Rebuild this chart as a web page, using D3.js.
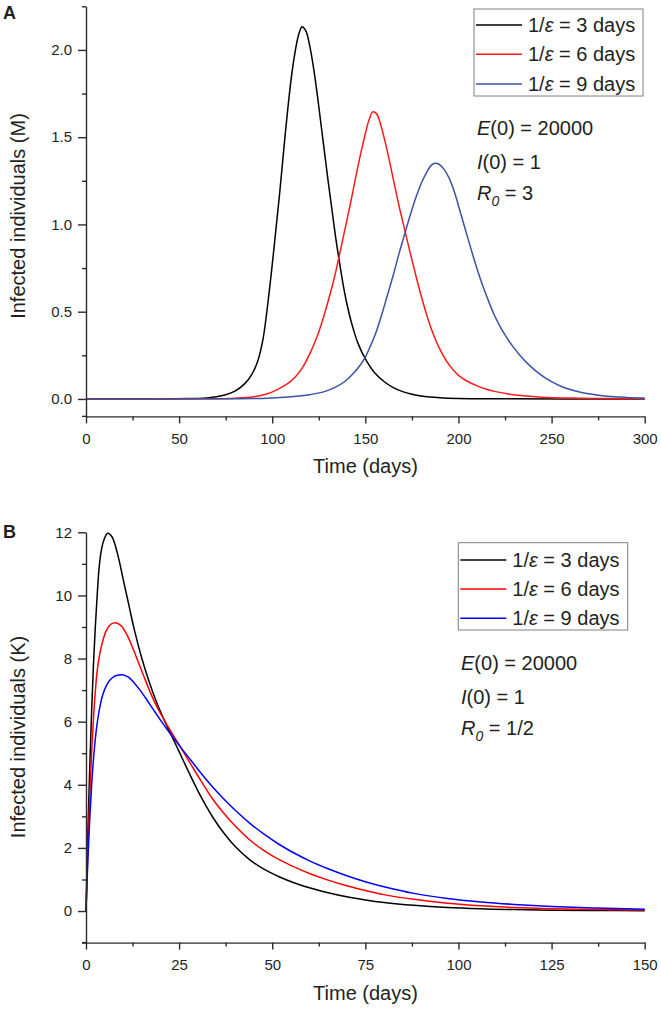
<!DOCTYPE html>
<html><head><meta charset="utf-8">
<script src="https://cdn.jsdelivr.net/npm/d3@7"></script>
<style>
body{margin:0;background:#fff;}
svg text{font-family:Arial,"Liberation Sans",sans-serif;fill:#231f20;}
</style></head><body>
<svg id="c" width="661" height="1009"></svg>
<script>
// ---------- Panel A data (t in days, infected in millions) ----------
const aBlack = [[0,0],[40,0],[55,0.002],[60,0.003],[65,0.006],[70,0.012],[75,0.024],[80,0.045],[85,0.085],[89,0.14],[92,0.21],[95,0.34],[98,0.58],[101,0.87],[104,1.18],[107,1.52],[110,1.82],[112,1.97],[114,2.08],[116,2.133],[118,2.11],[120,2.03],[122,1.91],[124,1.76],[126,1.59],[128,1.42],[130,1.25],[132,1.09],[134,0.93],[136,0.79],[138,0.66],[140,0.55],[143,0.42],[146,0.32],[150,0.23],[155,0.15],[160,0.1],[165,0.065],[170,0.042],[175,0.027],[180,0.017],[190,0.007],[200,0.003],[220,0.001],[300,0]];
const aRed = [[0,0],[60,0.001],[80,0.004],[90,0.012],[97,0.028],[103,0.055],[108,0.086],[112,0.122],[116,0.175],[120,0.255],[124,0.355],[127,0.45],[130,0.56],[133,0.68],[136,0.82],[139,0.97],[142,1.12],[145,1.28],[148,1.43],[150,1.52],[152,1.6],[154,1.645],[156,1.635],[158,1.58],[160,1.5],[162,1.41],[164,1.31],[166,1.21],[168,1.11],[170,1.02],[172,0.93],[174,0.84],[176,0.755],[178,0.67],[180,0.59],[183,0.48],[186,0.385],[190,0.285],[195,0.195],[200,0.135],[205,0.1],[210,0.075],[215,0.056],[220,0.042],[226,0.03],[235,0.018],[245,0.01],[260,0.005],[280,0.002],[300,0.001]];
const aBlue = [[0,0],[80,0.001],[90,0.002],[100,0.006],[110,0.012],[120,0.024],[128,0.042],[134,0.068],[139,0.1],[143,0.14],[147,0.19],[150,0.24],[153,0.31],[156,0.39],[159,0.49],[162,0.6],[165,0.71],[168,0.83],[171,0.94],[174,1.05],[177,1.15],[180,1.235],[183,1.3],[185.5,1.34],[187.5,1.35],[189.5,1.345],[192,1.32],[195,1.265],[198,1.18],[201,1.07],[204,0.96],[207,0.85],[210,0.745],[213,0.65],[216,0.565],[219,0.487],[222,0.422],[226,0.35],[230,0.29],[234,0.238],[238,0.194],[242,0.157],[246,0.125],[250,0.099],[255,0.073],[260,0.054],[265,0.04],[270,0.03],[280,0.016],[290,0.009],[300,0.005]];

// ---------- Panel B data (t in days, infected in thousands) ----------
const bBlack = [[0,0],[0.3,1.5],[0.6,2.9],[1.0,4.5],[1.5,6.3],[2.0,7.8],[2.5,9.0],[3.0,10.0],[3.5,10.85],[4.0,11.35],[4.7,11.72],[5.8,11.97],[7,11.85],[8.5,11.3],[10,10.5],[11.5,9.7],[13,8.9],[15,8.0],[17,7.25],[19,6.6],[21,6.05],[23,5.55],[25,5.05],[28,4.3],[30.6,3.68],[34,2.98],[37,2.47],[40,2.05],[44,1.62],[48,1.31],[52,1.08],[56,0.89],[60,0.74],[65,0.58],[70,0.45],[75,0.35],[80,0.27],[88,0.18],[97,0.11],[106,0.07],[115,0.045],[125,0.028],[137,0.017],[150,0.01]];
const bRed = [[0,0],[0.5,1.9],[1.0,3.6],[1.5,5.0],[2.0,6.1],[2.5,6.95],[3.0,7.6],[3.7,8.15],[4.6,8.6],[5.5,8.9],[6.5,9.07],[7.5,9.13],[8.4,9.12],[9.5,9.03],[11,8.75],[12.5,8.35],[14,7.9],[15.5,7.45],[17,7.0],[19,6.48],[21,6.05],[23,5.65],[25,5.27],[28,4.68],[31,4.1],[34,3.55],[37,3.1],[40,2.7],[44,2.25],[48,1.9],[52,1.62],[56,1.39],[60,1.19],[65,0.98],[70,0.8],[75,0.65],[80,0.52],[88,0.37],[97,0.25],[106,0.17],[115,0.115],[125,0.075],[137,0.045],[150,0.03]];
const bBlue = [[0,0],[0.5,1.6],[1.0,2.9],[1.5,3.95],[2.0,4.8],[2.5,5.45],[3.0,5.95],[3.7,6.45],[4.5,6.85],[5.5,7.15],[6.5,7.33],[7.5,7.43],[8.5,7.47],[10,7.48],[11.5,7.4],[13,7.22],[14.5,7.0],[16,6.75],[18,6.4],[20,6.05],[22,5.72],[25,5.25],[28,4.8],[31,4.35],[34,3.93],[37,3.55],[40,3.2],[44,2.78],[48,2.42],[52,2.1],[56,1.83],[60,1.59],[65,1.34],[70,1.12],[75,0.93],[80,0.77],[88,0.56],[97,0.4],[106,0.29],[115,0.21],[125,0.145],[137,0.095],[150,0.06]];

// ---------- ticks & labels ----------
const aXMajor = [0,50,100,150,200,250,300];
const aXMinor = [25,75,125,175,225,275];
const aYMajor = [0,0.5,1.0,1.5,2.0];
const aYMinor = [0.25,0.75,1.25,1.75,2.25];
const bXMajor = [0,25,50,75,100,125,150];
const bXMinor = [12.5,37.5,62.5,87.5,112.5,137.5];
const bYMajor = [0,2,4,6,8,10,12];
const bYMinor = [-1,1,3,5,7,9,11];
const latentDays = ["3","6","9"];
const annotA = ["20000","1","3"];
const annotB = ["20000","1","1/2"];

const svg = d3.select("#c");
const AX = "#2b2b2b";

function panel(o){
  const g = svg.append("g");
  const x = d3.scaleLinear().domain(o.xDom).range([86,644.7]);
  const y = d3.scaleLinear().domain(o.yDom).range(o.yRange);
  const y0 = o.yRange[0];

  // curves
  const line = d3.line().x(d=>x(d[0])).y(d=>y(d[1])).curve(d3.curveCatmullRom.alpha(0.5));
  o.series.forEach(s=>{
    g.append("path").attr("d",line(s.data)).attr("fill","none")
     .attr("stroke",s.color).attr("stroke-width",1.5).attr("stroke-linejoin","round");
  });

  // x axis
  g.append("g").attr("transform",`translate(0,${y0})`)
    .call(d3.axisBottom(x).tickValues(o.xMajor).tickSize(7).tickSizeOuter(0).tickPadding(9.5).tickFormat(d3.format("d")));
  g.append("g").attr("transform",`translate(0,${y0})`)
    .call(d3.axisBottom(x).tickValues(o.xMinor).tickSize(4).tickSizeOuter(0).tickFormat(""))
    .select(".domain").remove();
  // y axis
  g.append("g").attr("transform","translate(86,0)")
    .call(d3.axisLeft(y).tickValues(o.yMajor).tickSize(8).tickSizeOuter(0).tickPadding(6).tickFormat(o.yFmt));
  g.append("g").attr("transform","translate(86,0)")
    .call(d3.axisLeft(y).tickValues(o.yMinor).tickSize(4).tickSizeOuter(0).tickFormat(""))
    .select(".domain").remove();
  g.append("line").attr("x1",82).attr("x2",86).attr("y1",y0).attr("y2",y0).attr("stroke",AX).attr("stroke-width",1.4);

  g.selectAll(".domain, .tick line").attr("stroke",AX).attr("stroke-width",1.4);
  g.selectAll(".tick text").attr("font-size",15).attr("font-family",'Arial,"Liberation Sans",sans-serif').attr("fill","#231f20");

  // axis titles
  g.append("text").attr("x",365.5).attr("y",o.xTitleY).attr("text-anchor","middle")
    .attr("font-size",20).text("Time (days)");
  g.append("text").attr("transform",`translate(25,${o.yTitleC}) rotate(-90)`).attr("text-anchor","middle")
    .attr("font-size",20).text(o.yTitle);

  // panel letter
  g.append("text").attr("x",3).attr("y",o.letterY).attr("font-size",18).attr("font-weight","bold").text(o.letter);

  // legend
  const L = o.legend;
  g.append("rect").attr("x",L.x).attr("y",L.y).attr("width",L.w).attr("height",L.h)
    .attr("fill","none").attr("stroke","#808080").attr("stroke-width",1);
  o.series.forEach((s,i)=>{
    const yy = L.rows[i];
    g.append("line").attr("x1",L.x+2).attr("x2",L.x+48).attr("y1",yy).attr("y2",yy)
      .attr("stroke",s.color).attr("stroke-width",1.5);
    const t = g.append("text").attr("x",L.x+54).attr("y",yy+7).attr("font-size",20);
    t.append("tspan").text("1/");
    t.append("tspan").attr("font-style","italic").text("ε");
    t.append("tspan").text(" = " + latentDays[i] + " days");
  });

  // annotations
  const A = o.annot;
  const t1 = g.append("text").attr("x",A.x).attr("y",A.ys[0]).attr("font-size",20);
  t1.append("tspan").attr("font-style","italic").text("E");
  t1.append("tspan").text("(0) = " + A.vals[0]);
  const t2 = g.append("text").attr("x",A.x).attr("y",A.ys[1]).attr("font-size",20);
  t2.append("tspan").attr("font-style","italic").text("I");
  t2.append("tspan").text("(0) = " + A.vals[1]);
  const t3 = g.append("text").attr("x",A.x).attr("y",A.ys[2]).attr("font-size",20);
  t3.append("tspan").attr("font-style","italic").text("R");
  t3.append("tspan").attr("font-style","italic").attr("font-size",14).attr("dy",6).text("0");
  t3.append("tspan").attr("dy",-6).text(" = " + A.vals[2]);
}

panel({
  xDom:[0,300], yDom:[-0.1,2.25], yRange:[416.4,6.3],
  xMajor:aXMajor, xMinor:aXMinor, yMajor:aYMajor, yMinor:aYMinor, yFmt:d3.format(".1f"),
  series:[{data:aBlack,color:"#000000"},{data:aRed,color:"#ff1a1a"},{data:aBlue,color:"#3a53a4"}],
  xTitleY:473, yTitle:"Infected individuals (M)", yTitleC:216, letter:"A", letterY:19,
  legend:{x:474,y:9,w:169,h:87,rows:[25,54.3,84]},
  annot:{x:477,ys:[135,168.5,200],vals:annotA}
});
panel({
  xDom:[0,150], yDom:[-1,12], yRange:[942.6,532.3],
  xMajor:bXMajor, xMinor:bXMinor, yMajor:bYMajor, yMinor:bYMinor, yFmt:d3.format("d"),
  series:[{data:bBlack,color:"#000000"},{data:bRed,color:"#ff0000"},{data:bBlue,color:"#0000ff"}],
  xTitleY:1000, yTitle:"Infected individuals (K)", yTitleC:737, letter:"B", letterY:537.5,
  legend:{x:458.3,y:542.7,w:169.4,h:87.3,rows:[560,589,618.3]},
  annot:{x:461,ys:[669.5,703.5,734.5],vals:annotB}
});
</script>
</body></html>
